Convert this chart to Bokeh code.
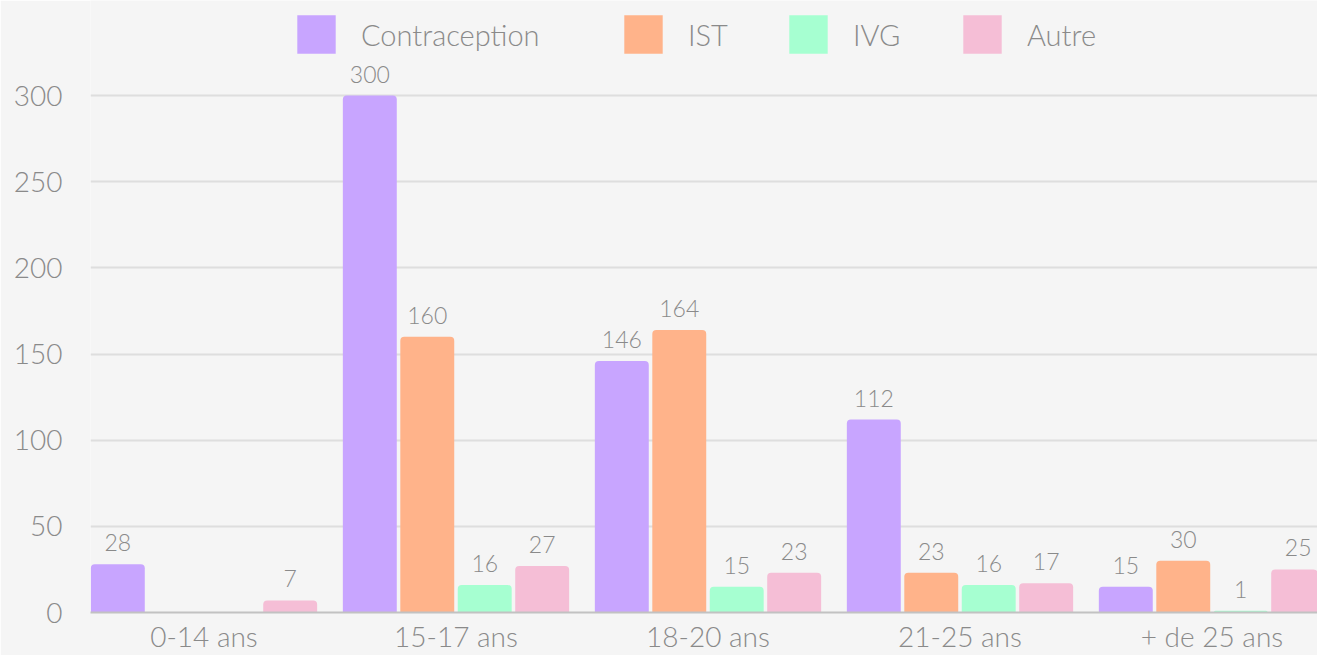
import numpy as np
from bokeh.plotting import figure
from bokeh.models import ColumnDataSource, Range1d, FixedTicker, Legend, LegendItem, LabelSet
from bokeh.core.properties import value
from bokeh.embed import file_html
from bokeh.resources import INLINE

categories = ["0-14 ans", "15-17 ans", "18-20 ans", "21-25 ans", "+ de 25 ans"]
series_names = ["Contraception", "IST", "IVG", "Autre"]
contraception = [28, 300, 146, 112, 15]
ist = [0, 160, 164, 23, 30]
ivg = [0, 16, 15, 16, 1]
autre = [7, 27, 23, 17, 25]
colors = ["#c8a5ff", "#ffb38a", "#a6ffd1", "#f5bed6"]
y_ticks = [0, 50, 100, 150, 200, 250, 300]

FONT = "'Lato Light', Lato"
TEXT_COLOR = "#8a8a8a"
BG = "#f5f5f5"

W, H = 1317, 655
FRAME_BOTTOM = 611  # expected frame bottom in page pixels

p = figure(width=W, height=H, output_backend="svg", toolbar_location=None,
           x_range=Range1d(-0.4504, 4.4187), y_range=Range1d(0, 355.2),
           min_border_left=90, min_border_right=0, min_border_top=0, min_border_bottom=10)
p.background_fill_color = BG
p.border_fill_color = BG
p.outline_line_color = None

values = [contraception, ist, ivg, autre]
step = 0.228
bar_w = 0.214
idx = np.arange(len(categories))
renderers = []
for k, (name, vals, col) in enumerate(zip(series_names, values, colors)):
    xs = idx + (k - 1.5) * step
    src = ColumnDataSource(dict(x=xs, top=vals))
    r = p.vbar(x="x", top="top", width=bar_w, source=src, fill_color=col,
               line_color=None, border_radius=(4, 4, 0, 0))
    renderers.append(r)
    lab_x = [x for x, v in zip(xs, vals) if v != 0]
    lab_y = [v for v in vals if v != 0]
    lab_t = [str(v) for v in vals if v != 0]
    lsrc = ColumnDataSource(dict(x=lab_x, y=lab_y, t=lab_t))
    labels = LabelSet(x="x", y="y", text="t", source=lsrc, text_align="center",
                      text_baseline="bottom", y_offset=13, text_font=value(FONT),
                      text_font_size=value("23px"), text_color=value(TEXT_COLOR))
    p.add_layout(labels)

# one legend per entry, placed at the reference positions (screen px, from frame bottom-left)
legend_x = [202, 529, 694, 868]
legend_top = 9
for name, r, lx in zip(series_names, renderers, legend_x):
    lg = Legend(items=[LegendItem(label=name, renderers=[r])],
                orientation="horizontal", location=(lx, FRAME_BOTTOM - legend_top - 48),
                glyph_width=48, glyph_height=48, label_standoff=21,
                label_text_font=FONT, label_text_font_size="29px", label_text_color=TEXT_COLOR,
                label_height=48, padding=0, margin=0,
                background_fill_alpha=0, border_line_color=None)
    p.add_layout(lg)

p.yaxis.ticker = FixedTicker(ticks=y_ticks)
p.yaxis.axis_line_color = None
p.yaxis.major_tick_line_color = None
p.yaxis.minor_tick_line_color = None
p.yaxis.major_tick_out = 0
p.yaxis.major_label_standoff = 28
p.yaxis.major_label_text_font = FONT
p.yaxis.major_label_text_font_size = "28px"
p.yaxis.major_label_text_color = TEXT_COLOR

p.xaxis.ticker = FixedTicker(ticks=list(idx))
p.xaxis.major_label_overrides = {int(i): c for i, c in zip(idx, categories)}
p.xaxis.axis_line_color = "#c2c2c2"
p.xaxis.axis_line_width = 2
p.xaxis.major_tick_line_color = None
p.xaxis.minor_tick_line_color = None
p.xaxis.major_tick_out = 0
p.xaxis.major_tick_in = 0
p.xaxis.major_label_standoff = 6
p.xaxis.major_label_text_font = FONT
p.xaxis.major_label_text_font_size = "28px"
p.xaxis.major_label_text_color = TEXT_COLOR

p.xgrid.grid_line_color = None
p.ygrid.grid_line_color = "#dedede"
p.ygrid.grid_line_width = 2

open("out.html", "w").write(file_html(p, INLINE))
